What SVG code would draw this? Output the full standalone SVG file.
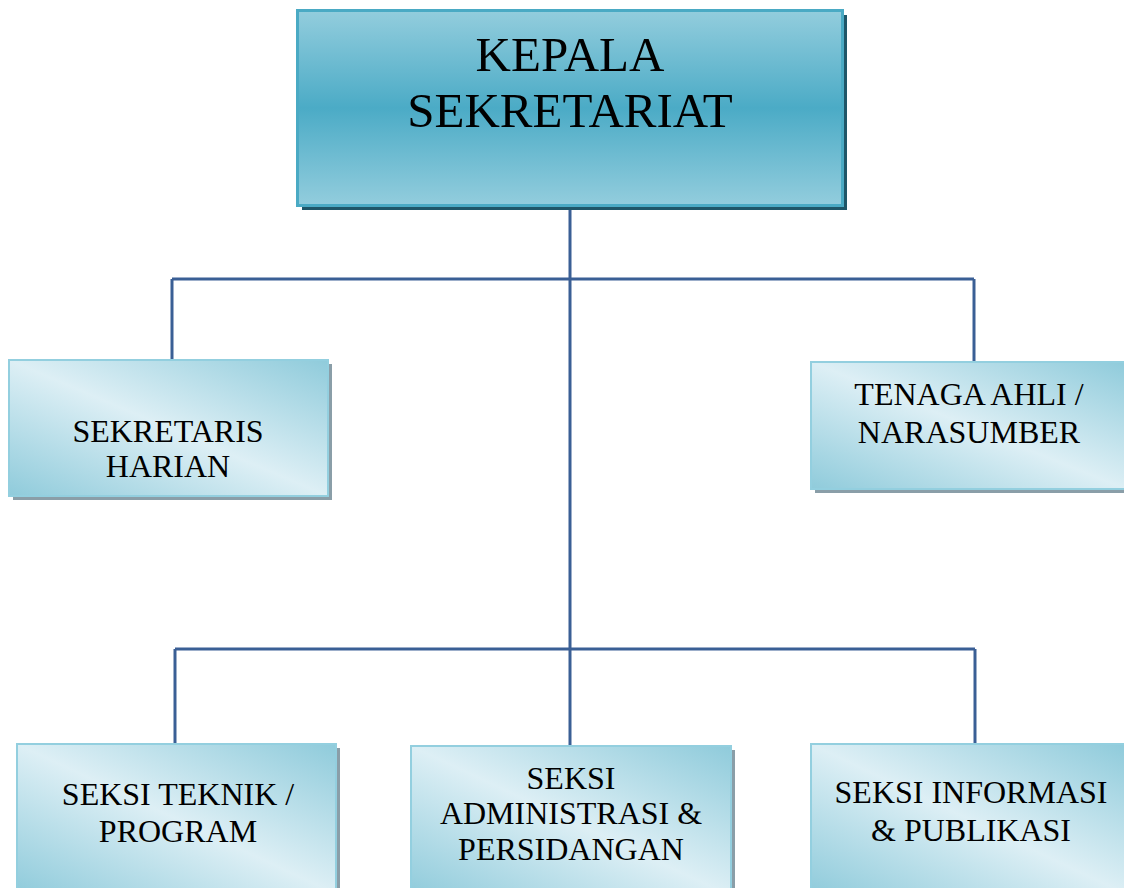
<svg xmlns="http://www.w3.org/2000/svg" width="1124" height="888" viewBox="0 0 1124 888">
<defs>
<linearGradient id="gTop" x1="0" y1="0" x2="0" y2="1">
<stop offset="0" stop-color="#93cddd"/>
<stop offset="0.5" stop-color="#4babc6"/>
<stop offset="1" stop-color="#93cddd"/>
</linearGradient>
<linearGradient id="gBox" x1="1" y1="0" x2="0" y2="1">
<stop offset="0" stop-color="#8fcbdb"/>
<stop offset="0.5" stop-color="#ddeff5"/>
<stop offset="1" stop-color="#8fcbdb"/>
</linearGradient>
</defs>
<style>
.conn{stroke:#3a5f95;stroke-width:3;fill:none}
.box{fill:url(#gBox);stroke:#93cfdf;stroke-width:2}
.shadow{fill:#8a9ea8}
.t{font-family:"Liberation Serif","Times New Roman",serif;font-size:32px;fill:#000;text-anchor:middle}
.tb{font-family:"Liberation Serif","Times New Roman",serif;font-size:49px;fill:#000;text-anchor:middle}
</style>
<rect width="1124" height="888" fill="#fff"/>
<g id="connectors">
<path class="conn" d="M570 205 V648"/>
<path class="conn" d="M172 279 H974"/>
<path class="conn" d="M172 279 V360"/>
<path class="conn" d="M974 279 V362"/>
<path class="conn" d="M175 649 H975"/>
<path class="conn" d="M175 649 V745"/>
<path class="conn" d="M975 649 V745"/>
<path class="conn" d="M570 649 V746"/>
</g>
<g id="kepala">
<rect x="302" y="15" width="545" height="195" fill="#1f5668"/>
<rect x="297.5" y="10.5" width="545" height="195" fill="url(#gTop)" stroke="#4aaac4" stroke-width="3"/>
<text class="tb" x="570" y="71">KEPALA</text>
<text class="tb" x="570" y="127">SEKRETARIAT</text>
</g>
<g id="sekretaris">
<rect class="shadow" x="13" y="364" width="319" height="136"/>
<rect class="box" x="9" y="360" width="319" height="136"/>
<text class="t" x="168" y="442">SEKRETARIS</text>
<text class="t" x="168" y="477">HARIAN</text>
</g>
<g id="tenaga">
<rect class="shadow" x="815" y="366" width="315" height="127"/>
<rect class="box" x="811" y="362" width="315" height="127"/>
<text class="t" x="969" y="405">TENAGA AHLI /</text>
<text class="t" x="969" y="443">NARASUMBER</text>
</g>
<g id="teknik">
<rect class="shadow" x="21" y="748" width="319" height="150"/>
<rect class="box" x="17" y="744" width="319" height="150"/>
<text class="t" x="178" y="805">SEKSI TEKNIK /</text>
<text class="t" x="178" y="842">PROGRAM</text>
</g>
<g id="administrasi">
<rect class="shadow" x="415" y="750" width="320" height="150"/>
<rect class="box" x="411" y="746" width="320" height="150"/>
<text class="t" x="571" y="789">SEKSI</text>
<text class="t" x="571" y="824">ADMINISTRASI &amp;</text>
<text class="t" x="571" y="860">PERSIDANGAN</text>
</g>
<g id="informasi">
<rect class="shadow" x="815" y="748" width="315" height="150"/>
<rect class="box" x="811" y="744" width="315" height="150"/>
<text class="t" x="971" y="803">SEKSI INFORMASI</text>
<text class="t" x="971" y="841">&amp; PUBLIKASI</text>
</g>
</svg>
